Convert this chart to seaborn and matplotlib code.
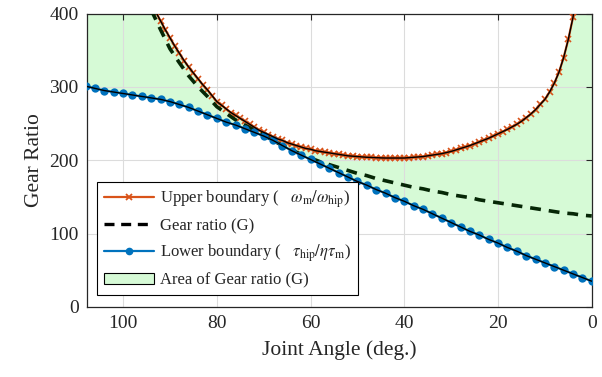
import numpy as np
import pandas as pd
import matplotlib
matplotlib.use('Agg')
import matplotlib.pyplot as plt
import seaborn as sns
from matplotlib.lines import Line2D
from matplotlib.patches import Patch

# joint angle grid (deg.)
angle = [108, 106, 104, 102, 100, 98, 96, 94, 92, 90, 88, 86, 84, 82, 80, 78, 76, 74,
         72, 70, 68, 66, 64, 62, 60, 58, 56, 54, 52, 50, 48, 46, 44, 42, 40, 38, 36,
         34, 32, 30, 28, 26, 24, 22, 20, 18, 16, 14, 12, 10, 8, 6, 4, 2, 0]

# lower boundary  tau_hip / (eta tau_m)
lower = [301, 298, 295, 293, 291, 289, 287, 285, 283, 280, 276, 272, 267, 262, 257, 252, 248, 243,
         238, 233, 227, 220, 213, 207, 201, 195, 189, 183, 177, 171, 166, 160, 155, 149, 144, 138, 133,
         127, 121, 115, 109, 103, 98, 92, 87, 81, 76, 70, 65, 60, 55, 50, 45, 40, 35]

# upper boundary  omega_m / omega_hip  (only where it is under ~400)
upper_angle = [94, 93, 92, 91, 90, 89, 88, 87, 86, 85, 84, 83, 82, 81, 80, 79, 78, 77, 76, 75,
               74, 73, 72, 71, 70, 69, 68, 67, 66, 65, 64, 63, 62, 61, 60, 59, 58, 57, 56, 55,
               54, 53, 52, 51, 50, 49, 48, 47, 46, 45, 44, 43, 42, 41, 40, 39, 38, 37, 36, 35,
               34, 33, 32, 31, 30, 29, 28, 27, 26, 25, 24, 23, 22, 21, 20, 19, 18, 17, 16, 15,
               14, 13, 12, 11, 10, 9, 8, 7, 6, 5, 4, 3, 2]
upper = [415, 402, 390, 378, 367, 356, 346, 336, 327, 319, 311, 303, 296, 288, 280, 275, 270, 265, 261, 257,
         253, 249, 245, 241, 238, 235, 232, 229, 227, 224, 222, 220, 218, 216, 215, 213, 212, 211, 210, 209,
         208, 207, 206, 205.5, 205, 204.5, 204, 203.8, 203.5, 203.2, 203, 203, 203, 203, 203, 203.5, 204, 204.5, 205, 206,
         207, 208, 209, 210.5, 212, 214, 216, 218, 220, 222.5, 225, 227.5, 230, 233, 236, 239, 242, 245.5, 249, 253,
         258, 263, 269, 276, 283, 293, 305, 320, 340, 365, 395, 440, 520]

# chosen gear ratio G
gear = [None, None, None, None, None, None, None, 405, 378, 352, 333, 315, 300, 287, 273, 264, 255, 248,
        241, 234, 227, 220, 214, 208, 203, 198, 194, 190, 186, 182, 179, 175, 172, 169, 166, 163, 161,
        158, 156, 153, 151, 149, 146, 144, 142, 140, 138, 136, 134, 132, 130, 128, 127, 125, 124]

orange = '#D95319'
blue = '#0072BD'
fill_c = '#d6fad6'

sns.set_theme(style='white')
plt.rcParams['font.family'] = ['Liberation Serif', 'DejaVu Serif']
plt.rcParams['mathtext.fontset'] = 'stix'

fig = plt.figure(figsize=(6.02, 3.77), dpi=100)
ax = fig.add_axes([0.1445, 0.186, 0.8385, 0.778])

low_df = pd.DataFrame({'angle': angle, 'val': lower})
up_df = pd.DataFrame({'angle': upper_angle, 'val': upper})
g_df = pd.DataFrame({'angle': angle, 'val': gear}).dropna()

# green area between the two boundaries (upper taken off-chart where not given)
up_map = dict(zip(upper_angle, upper))
up_full = [up_map.get(a, 1000) for a in angle]
ax.fill_between(angle, lower, up_full, color=fill_c, lw=0, zorder=1)

sns.lineplot(data=up_df, x='angle', y='val', ax=ax, color=orange, lw=1.6, marker='x',
             markersize=4, markeredgewidth=1.2, markeredgecolor=orange, sort=False, zorder=3)
sns.lineplot(data=up_df, x='angle', y='val', ax=ax, color='black', lw=1.0, sort=False, zorder=4)
sns.lineplot(data=g_df, x='angle', y='val', ax=ax, color='#062706', lw=2.6, sort=False, zorder=3,
             dashes=False, linestyle=(0, (3, 2.2)))
sns.lineplot(data=low_df, x='angle', y='val', ax=ax, color=blue, lw=1.6, marker='o',
             markersize=6, markeredgewidth=0, sort=False, zorder=3)
sns.lineplot(data=low_df, x='angle', y='val', ax=ax, color='black', lw=1.0, sort=False, zorder=4)

ax.set_xlim(107.7, 0)
ax.set_ylim(0, 400)
ax.set_xticks([100, 80, 60, 40, 20, 0])
ax.set_yticks([0, 100, 200, 300, 400])
ax.set_axisbelow('line')
ax.grid(True, color='#dcdcdc', lw=0.8)
ax.tick_params(direction='in', top=True, right=True, length=4, width=0.8,
               labelsize=14, color='#262626', pad=6)
for s in ax.spines.values():
    s.set_color('#262626')
    s.set_linewidth(0.9)
ax.set_xlabel('Joint Angle (deg.)', fontsize=15.5, labelpad=6)
ax.set_ylabel('Gear Ratio', fontsize=15.5, labelpad=4)

handles = [
    Line2D([], [], color=orange, lw=1.6, marker='x', markersize=4.5, markeredgewidth=1.3),
    Line2D([], [], color='black', lw=2.4, linestyle=(0, (3, 2))),
    Line2D([], [], color=blue, lw=1.6, marker='o', markersize=4.5),
    Patch(facecolor=fill_c, edgecolor='black', lw=0.8),
]
labels = [
    r'Upper boundary (   $\omega_\mathrm{m}/\omega_\mathrm{hip}$)',
    'Gear ratio (G)',
    r'Lower boundary (   $\tau_\mathrm{hip}/\eta\tau_\mathrm{m}$)',
    'Area of Gear ratio (G)',
]
leg = ax.legend(handles, labels, loc='lower left', bbox_to_anchor=(0.02, 0.04), borderaxespad=0,
                fontsize=12, frameon=True, fancybox=False, edgecolor='black', framealpha=1,
                handlelength=3.0, handletextpad=0.4, labelspacing=0.5, borderpad=0.4)
leg.get_frame().set_linewidth(0.8)

fig.savefig('out.png', dpi=100)
